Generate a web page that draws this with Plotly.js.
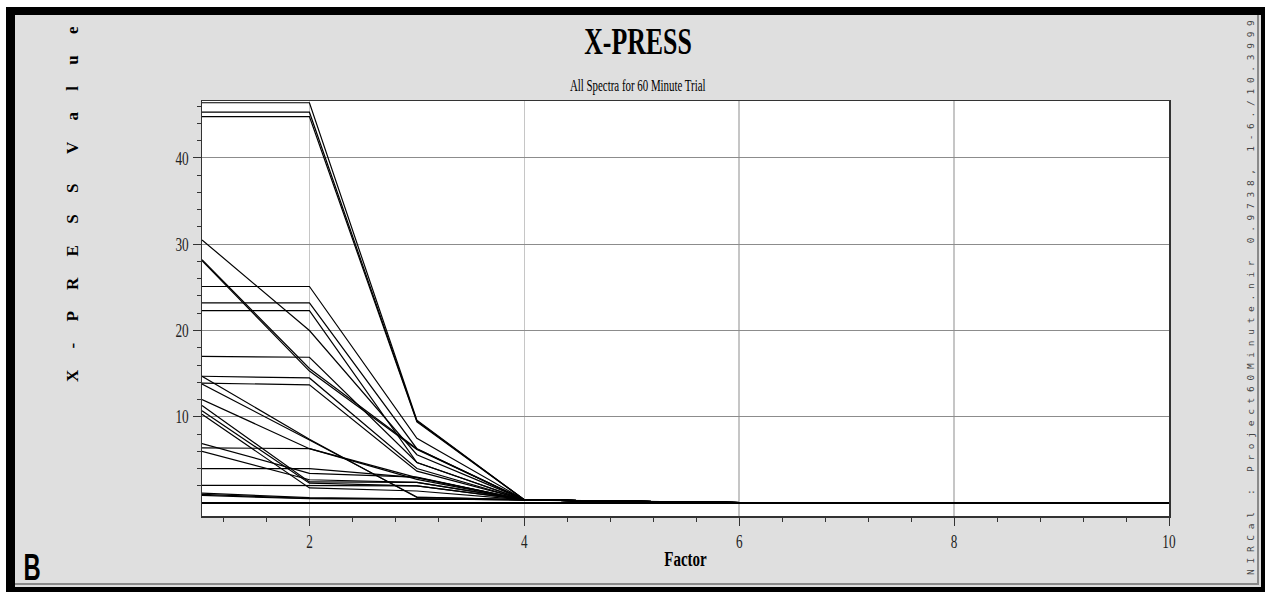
<!DOCTYPE html>
<html><head><meta charset="utf-8">
<script src="https://cdn.plot.ly/plotly-3.0.1.min.js"></script>
<style>
html,body{margin:0;padding:0;background:#fff;width:1265px;height:592px;overflow:hidden}
#frame{position:absolute;left:6px;top:7px;width:1259px;height:585px;box-sizing:border-box;border-left:9px solid #000;border-top:8px solid #000;border-right:4px solid #000;border-bottom:5px solid #000;background:#dfdfdf;box-shadow:inset -2px -2px 0 #dfdfdf, inset -4px -4px 0 #8a8a8a}
#chart{position:absolute;left:0;top:0;width:1265px;height:592px}
</style></head><body>
<div id="frame"></div><div id="chart"></div>
<script>
// ---- data ----
const factors = [1, 2, 3, 4, 5, 6, 7, 8, 9, 10];
const s01 = [46.4, 46.4, 9.6, 0.38, 0.2, 0.05, 0.05, 0.05, 0.05, 0.05];
const s02 = [45.3, 45.3, 9.5, 0.38, 0.2, 0.05, 0.05, 0.05, 0.05, 0.05];
const s03 = [44.8, 44.8, 9.4, 0.38, 0.2, 0.05, 0.05, 0.05, 0.05, 0.05];
const s04 = [30.5, 20.0, 5.6, 0.38, 0.2, 0.05, 0.05, 0.05, 0.05, 0.05];
const s05 = [28.2, 15.6, 6.3, 0.38, 0.2, 0.05, 0.05, 0.05, 0.05, 0.05];
const s06 = [28.1, 15.3, 6.2, 0.38, 0.2, 0.05, 0.05, 0.05, 0.05, 0.05];
const s07 = [25.1, 25.1, 7.5, 0.38, 0.2, 0.05, 0.05, 0.05, 0.05, 0.05];
const s08 = [23.2, 23.2, 6.3, 0.38, 0.2, 0.05, 0.05, 0.05, 0.05, 0.05];
const s09 = [22.3, 22.3, 4.7, 0.38, 0.2, 0.05, 0.05, 0.05, 0.05, 0.05];
const s10 = [17.0, 16.9, 4.7, 0.38, 0.2, 0.05, 0.05, 0.05, 0.05, 0.05];
const s11 = [14.7, 14.5, 4.0, 0.38, 0.2, 0.05, 0.05, 0.05, 0.05, 0.05];
const s12 = [13.9, 13.7, 3.7, 0.38, 0.2, 0.05, 0.05, 0.05, 0.05, 0.05];
const s13 = [14.7, 7.4, 0.65, 0.38, 0.2, 0.05, 0.05, 0.05, 0.05, 0.05];
const s14 = [13.8, 7.3, 0.7, 0.38, 0.2, 0.05, 0.05, 0.05, 0.05, 0.05];
const s15 = [12.0, 6.3, 2.75, 0.38, 0.2, 0.05, 0.05, 0.05, 0.05, 0.05];
const s16 = [11.3, 2.45, 2.4, 0.38, 0.2, 0.05, 0.05, 0.05, 0.05, 0.05];
const s17 = [10.7, 2.3, 2.0, 0.38, 0.2, 0.05, 0.05, 0.05, 0.05, 0.05];
const s18 = [10.3, 1.75, 1.4, 0.38, 0.2, 0.05, 0.05, 0.05, 0.05, 0.05];
const s19 = [6.9, 3.45, 3.0, 0.38, 0.2, 0.05, 0.05, 0.05, 0.05, 0.05];
const s20 = [6.4, 6.3, 2.95, 0.38, 0.2, 0.05, 0.05, 0.05, 0.05, 0.05];
const s21 = [6.0, 2.7, 2.4, 0.38, 0.2, 0.05, 0.05, 0.05, 0.05, 0.05];
const s22 = [4.0, 4.0, 2.95, 0.38, 0.2, 0.05, 0.05, 0.05, 0.05, 0.05];
const s23 = [2.06, 2.06, 2.0, 0.38, 0.2, 0.05, 0.05, 0.05, 0.05, 0.05];
const s24 = [1.15, 0.62, 0.5, 0.38, 0.2, 0.05, 0.05, 0.05, 0.05, 0.05];
const s25 = [1.0, 0.55, 0.47, 0.38, 0.2, 0.05, 0.05, 0.05, 0.05, 0.05];
const s26 = [0.88, 0.5, 0.45, 0.38, 0.2, 0.05, 0.05, 0.05, 0.05, 0.05];
const spectra = [s01,s02,s03,s04,s05,s06,s07,s08,s09,s10,s11,s12,s13,s14,s15,s16,s17,s18,s19,s20,s21,s22,s23,s24,s25,s26];

const yTickVals = [10, 20, 30, 40];
const yTickText = ['10', '20', '30', '40'];
const yMinorVals = [2, 4, 6, 8, 12, 14, 16, 18, 22, 24, 26, 28, 32, 34, 36, 38, 42, 44, 46];
const titleText = 'X-PRESS';
const subtitleText = 'All Spectra for 60 Minute Trial';
const xTitleText = 'Factor';
const yTitleText = 'X-PRESS Value';
const sideText = 'NIRCal : Project60Minute.nir 0.9738, 1-6./10.3999';
const panelLetter = 'B';

// ---- layout helpers ----
const W = 1265, H = 592, L = 202, R = 1169, T = 101, B = 516;
const px = x => (x - L) / (R - L);
const py = y => (B - y) / (B - T);
const NB = '\u00A0';
const spaced = (s, gap, wgap) => s.split(' ').map(w => w.split('').join(NB.repeat(gap))).join(NB.repeat(wgap));

const traces = spectra.map(v => ({
  x: factors, y: v, type: 'scatter', mode: 'lines',
  line: {color: '#000', width: 1.2}, hoverinfo: 'skip'
}));

const serif = 'Liberation Serif, Times New Roman, serif';
const layout = {
  width: W, height: H,
  margin: {l: L, r: W - R, t: T, b: H - B, pad: 0},
  paper_bgcolor: 'rgba(0,0,0,0)', plot_bgcolor: '#fff',
  showlegend: false,
  title: {text: titleText, font: {family: serif, size: 38, color: '#000', weight: 'bold'},
          xref: 'container', yref: 'container', x: 638 / W, y: 1 - 41 / H, xanchor: 'center', yanchor: 'middle'},
  xaxis: {
    range: [1, 10], tickmode: 'linear', tick0: 0, dtick: 2,
    ticks: 'outside', ticklen: 8, tickwidth: 1, tickcolor: '#333',
    showline: true, linecolor: '#333', linewidth: 1.5, mirror: true,
    showgrid: true, gridcolor: '#c6c6c6', gridwidth: 1.5, zeroline: false,
    tickfont: {family: serif, size: 19, color: '#222'},
    minor: {tick0: 0, dtick: 0.4, ticks: 'outside', ticklen: 4, tickwidth: 1, tickcolor: '#333', showgrid: false},
    title: {text: xTitleText, font: {family: serif, size: 20, color: '#000', weight: 'bold'}, standoff: 0},
    fixedrange: true
  },
  yaxis: {
    range: [-1.5, 46.6], tickmode: 'array', tickvals: yTickVals, ticktext: yTickText,
    ticks: 'outside', ticklen: 8, tickwidth: 1, tickcolor: '#333',
    showline: true, linecolor: '#333', linewidth: 1.5, mirror: true,
    showgrid: true, gridcolor: '#8c8c8c', gridwidth: 1,
    zeroline: true, zerolinecolor: '#000', zerolinewidth: 1.5,
    tickfont: {family: serif, size: 19, color: '#222'},
    minor: {tickmode: 'array', tickvals: yMinorVals, ticks: 'outside', ticklen: 4, tickwidth: 1, tickcolor: '#333', showgrid: false},
    fixedrange: true
  },
  annotations: [
    {text: subtitleText, xref: 'paper', yref: 'paper', x: px(638), y: py(86), showarrow: false,
     xanchor: 'center', yanchor: 'middle', font: {family: serif, size: 16, color: '#000'}},
    {text: spaced(yTitleText, 5, 7), xref: 'paper', yref: 'paper', x: px(72), y: py(204), showarrow: false,
     textangle: -90, xanchor: 'center', yanchor: 'middle', font: {family: serif, size: 17, color: '#000', weight: 'bold'}},
    {text: sideText.split('').join(NB), xref: 'paper', yref: 'paper', x: px(1250), y: py(298), showarrow: false,
     textangle: -90, xanchor: 'center', yanchor: 'middle', font: {family: 'DejaVu Sans Mono, monospace', size: 9.5, color: '#444'}},
    {text: panelLetter, xref: 'paper', yref: 'paper', x: px(32), y: py(567), showarrow: false,
     xanchor: 'center', yanchor: 'middle', font: {family: 'Liberation Sans, Arial, sans-serif', size: 36, color: '#000', weight: 'bold'}}
  ]
};

function squeeze(sel, k) {
  document.querySelectorAll(sel).forEach(t => {
    const w = t.getComputedTextLength();
    if (w > 0) {
      t.setAttribute('textLength', (w * k).toFixed(1));
      t.setAttribute('lengthAdjust', 'spacingAndGlyphs');
    }
  });
}

Plotly.newPlot('chart', traces, layout, {staticPlot: true, displayModeBar: false}).then(() => {
  squeeze('.gtitle', 0.68);
  squeeze('.xtick text', 0.7);
  squeeze('.ytick text', 0.7);
  squeeze('.g-xtitle text', 0.75);
  squeeze('.annotation[data-index="0"] text', 0.68);
  squeeze('.annotation[data-index="3"] text', 0.66);
});
</script></body></html>
